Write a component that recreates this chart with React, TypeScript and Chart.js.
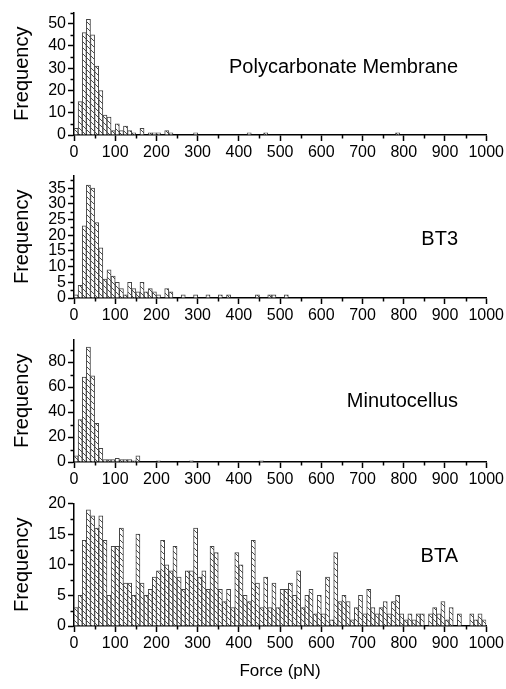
import React, { useEffect, useRef } from "react";
import { Chart, registerables } from "chart.js";

Chart.register(...registerables);

// ---------------- data (counts per 10 pN bin, 0..1000 pN) ----------------
const BIN_WIDTH = 10;
const X_MIN = 0;
const X_MAX = 1000;
const X_STEP = 100;
const X_TITLE = "Force (pN)";
const Y_TITLE = "Frequency";

const PANEL_NAMES = ["Polycarbonate Membrane", "BT3", "Minutocellus", "BTA"];
const Y_MAX = [55, 39, 98, 20];
const Y_STEP = [10, 5, 20, 5];

const polycarbonate = [
  3, 15, 46, 52, 45, 31, 20, 9, 8, 2,
  5, 2, 4, 2, 1, 0, 3, 0, 1, 1,
  1, 0, 2, 1, 0, 0, 0, 0, 0, 1,
  0, 0, 0, 0, 0, 0, 0, 0, 0, 0,
  0, 0, 1, 0, 0, 0, 1, 0, 0, 0,
  0, 0, 0, 0, 0, 0, 0, 0, 0, 0,
  0, 0, 0, 0, 0, 0, 0, 0, 0, 0,
  0, 0, 0, 0, 0, 0, 0, 0, 1, 0,
  0, 0, 0, 0, 0, 0, 0, 0, 0, 0,
  0, 0, 0, 0, 0, 0, 0, 0, 0, 0,
];

const bt3 = [
  1, 4, 23, 36, 35, 24, 16, 6, 9, 7,
  5, 3, 1, 5, 3, 2, 5, 2, 3, 2,
  1, 0, 3, 2, 0, 0, 1, 0, 0, 1,
  0, 0, 1, 0, 0, 1, 0, 1, 0, 0,
  0, 0, 0, 0, 1, 0, 0, 1, 1, 0,
  0, 1, 0, 0, 0, 0, 0, 0, 0, 0,
  0, 0, 0, 0, 0, 0, 0, 0, 0, 0,
  0, 0, 0, 0, 0, 0, 0, 0, 0, 0,
  0, 0, 0, 0, 0, 0, 0, 0, 0, 0,
  0, 0, 0, 0, 0, 0, 0, 0, 0, 0,
];

const minutocellus = [
  5, 34, 68, 92, 69, 31, 11, 2, 2, 2,
  3, 2, 2, 2, 1, 5, 0, 0, 0, 0,
  1, 0, 0, 0, 0, 0, 0, 0, 1, 0,
  0, 0, 0, 0, 0, 0, 0, 0, 0, 0,
  0, 0, 0, 0, 0, 1, 0, 0, 0, 0,
  0, 0, 0, 0, 0, 0, 0, 0, 0, 0,
  0, 0, 0, 0, 0, 0, 0, 0, 0, 0,
  0, 0, 0, 0, 0, 0, 0, 0, 0, 0,
  0, 0, 0, 0, 0, 0, 0, 0, 0, 0,
  0, 0, 0, 0, 0, 0, 0, 0, 0, 0,
];

const bta = [
  3, 5, 14, 19, 18, 16, 18, 14, 5, 13,
  13, 16, 7, 7, 5, 15, 7, 5, 6, 8,
  9, 14, 10, 9, 13, 8, 6, 9, 9, 16,
  8, 9, 6, 13, 12, 6, 4, 6, 3, 12,
  10, 5, 4, 14, 7, 3, 8, 3, 7, 3,
  6, 6, 7, 5, 9, 3, 5, 6, 2, 5,
  2, 8, 1, 12, 4, 5, 4, 1, 3, 5,
  2, 6, 3, 2, 3, 4, 2, 4, 5, 2,
  1, 2, 1, 2, 2, 0, 2, 3, 2, 4,
  1, 3, 0, 2, 0, 0, 2, 1, 2, 1,
];

const SERIES = [polycarbonate, bt3, minutocellus, bta];

// ---------------- layout (pixels) ----------------
const FONT = "'Liberation Sans', Arial, Helvetica, sans-serif";
const PAGE_W = 506;
const PAGE_H = 689;
const PLOT_LEFT = 74;
const PLOT_RIGHT_PAD = 18.5;
const PAD_TOP = 10;
const PLOT_H = 124;
const PANEL_TOPS = [1, 164, 328, 492]; // canvas top positions
const X_AXIS_H = [30, 30, 30, 63];
const LABEL_RIGHT = 458;
const LABEL_DY = [60, 69, 67, 58]; // baseline offset from plot top

function makeHatch(): CanvasPattern | string {
  const s = 6;
  const c = document.createElement("canvas");
  c.width = s;
  c.height = s;
  const g = c.getContext("2d");
  if (!g) return "#fff";
  g.fillStyle = "#ffffff";
  g.fillRect(0, 0, s, s);
  g.strokeStyle = "#4a4a4a";
  g.lineWidth = 1;
  for (let k = -1; k <= 1; k++) {
    g.beginPath();
    g.moveTo(0, k * s);
    g.lineTo(s, s + k * s);
    g.stroke();
  }
  return g.createPattern(c, "repeat") || "#fff";
}

const decorPlugin = {
  id: "decor",
  afterDraw(chart: any, _args: any, opts: any) {
    const { ctx, chartArea } = chart;
    const xs = chart.scales.x;
    const ys = chart.scales.y;
    ctx.save();
    ctx.strokeStyle = "#000";
    ctx.lineWidth = 1.5;
    // minor x ticks
    for (let v = opts.xMinor; v < xs.max; v += opts.xMinor * 2) {
      const px = Math.round(xs.getPixelForValue(v)) + 0.5;
      ctx.beginPath();
      ctx.moveTo(px, chartArea.bottom);
      ctx.lineTo(px, chartArea.bottom + 3.5);
      ctx.stroke();
    }
    // minor y ticks
    for (let v = opts.yMinor; v <= ys.max + 1e-9; v += opts.yMinor * 2) {
      const py = Math.round(ys.getPixelForValue(v)) + 0.5;
      ctx.beginPath();
      ctx.moveTo(chartArea.left, py);
      ctx.lineTo(chartArea.left - 3.5, py);
      ctx.stroke();
    }
    // panel label
    ctx.font = `20px ${FONT}`;
    ctx.fillStyle = "#000";
    ctx.textAlign = "right";
    ctx.textBaseline = "alphabetic";
    ctx.fillText(opts.label, opts.labelX, chartArea.top + opts.labelDy);
    ctx.restore();
  },
};

export default function App() {
  const refs = [
    useRef<HTMLCanvasElement>(null),
    useRef<HTMLCanvasElement>(null),
    useRef<HTMLCanvasElement>(null),
    useRef<HTMLCanvasElement>(null),
  ];

  useEffect(() => {
    const hatch = makeHatch();
    const charts: Chart[] = [];
    SERIES.forEach((counts, i) => {
      const canvas = refs[i].current;
      if (!canvas) return;
      const last = i === SERIES.length - 1;
      const data = counts.map((c, k) => ({ x: X_MIN + k * BIN_WIDTH + BIN_WIDTH / 2, y: c }));
      const tickFont = { family: FONT, size: 16 };
      const chart = new Chart(canvas, {
        type: "bar",
        data: {
          datasets: [
            {
              data,
              backgroundColor: hatch as any,
              borderColor: "#444444",
              borderWidth: 1,
              barPercentage: 1,
              categoryPercentage: 1,
              borderSkipped: "start",
            },
          ],
        },
        options: {
          animation: false,
          responsive: false,
          events: [],
          layout: { padding: { top: PAD_TOP, right: PLOT_RIGHT_PAD, left: 0, bottom: 0 } },
          plugins: {
            legend: { display: false },
            tooltip: { enabled: false },
            decor: {
              xMinor: X_STEP / 2,
              yMinor: Y_STEP[i] / 2,
              label: PANEL_NAMES[i],
              labelX: LABEL_RIGHT,
              labelDy: LABEL_DY[i],
            },
          } as any,
          scales: {
            x: {
              type: "linear",
              min: X_MIN,
              max: X_MAX,
              offset: false,
              ticks: {
                stepSize: X_STEP,
                font: tickFont,
                color: "#000",
                maxRotation: 0,
                autoSkip: false,
                padding: 2,
                callback: (v: any) => String(v),
              },
              grid: {
                offset: false,
                drawOnChartArea: false,
                drawTicks: true,
                tickLength: 6,
                tickColor: "#000",
                tickWidth: 1.5,
              },
              border: { display: true, color: "#000", width: 1.5 },
              title: {
                display: last,
                text: X_TITLE,
                color: "#000",
                font: { family: FONT, size: 17 },
                padding: { top: 0, bottom: 7 },
              },
              afterFit: (s: any) => {
                s.height = X_AXIS_H[i];
              },
            },
            y: {
              type: "linear",
              min: 0,
              max: Y_MAX[i],
              ticks: {
                stepSize: Y_STEP[i],
                includeBounds: false,
                autoSkip: false,
                font: tickFont,
                color: "#000",
                padding: 2,
                callback: (v: any) => String(v),
              },
              grid: {
                drawOnChartArea: false,
                drawTicks: true,
                tickLength: 6,
                tickColor: "#000",
                tickWidth: 1.5,
              },
              border: { display: true, color: "#000", width: 1.5 },
              title: {
                display: true,
                text: Y_TITLE,
                color: "#000",
                font: { family: FONT, size: 20 },
                padding: { top: 10, bottom: 0 },
              },
              afterFit: (s: any) => {
                s.width = PLOT_LEFT;
              },
            },
          },
        } as any,
        plugins: [decorPlugin],
      });
      charts.push(chart);
    });
    return () => charts.forEach((c) => c.destroy());
  }, []);

  return (
    <div
      style={{
        position: "absolute",
        left: 0,
        top: 0,
        width: PAGE_W,
        height: PAGE_H,
        overflow: "hidden",
        background: "#fff",
      }}
    >
      {SERIES.map((_, i) => (
        <canvas
          key={i}
          ref={refs[i]}
          width={PAGE_W}
          height={PAD_TOP + PLOT_H + X_AXIS_H[i]}
          style={{ position: "absolute", left: 0, top: PANEL_TOPS[i], display: "block" }}
        />
      ))}
    </div>
  );
}
